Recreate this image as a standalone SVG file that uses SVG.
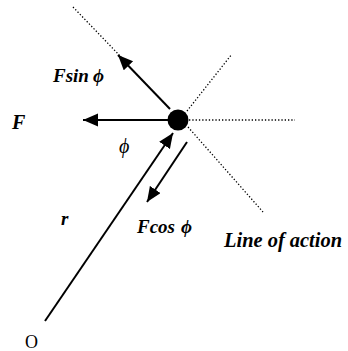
<svg xmlns="http://www.w3.org/2000/svg" width="348" height="351" viewBox="0 0 348 351">
<defs>
<marker id="ah" markerUnits="userSpaceOnUse" markerWidth="16" markerHeight="14" refX="15" refY="6.5" orient="auto">
<path d="M0,0 L15,6.5 L0,13 z" fill="#000"/>
</marker>
<style>
.dot{stroke:#000;stroke-width:1.3;stroke-dasharray:1.3 2;fill:none}
.arr{stroke:#000;stroke-width:2;fill:none;marker-end:url(#ah)}
.lbl{font-family:"Liberation Serif","Times New Roman",serif;font-weight:bold;font-style:italic;font-size:19px;fill:#000}
.reg{font-family:"Liberation Serif","Times New Roman",serif;font-size:18px;fill:#000}
</style>
</defs>
<rect width="348" height="351" fill="#fff"/>
<g id="connectors">
<line class="dot" x1="73" y1="7" x2="122" y2="58"/>
<line class="dot" x1="189" y1="120" x2="295" y2="120"/>
<line class="dot" x1="187" y1="111" x2="232" y2="54"/>
<line class="dot" x1="188" y1="127" x2="263" y2="212"/>
<line class="arr" x1="170" y1="109" x2="118" y2="55"/>
<line class="arr" x1="168" y1="120" x2="83" y2="120"/>
<line class="arr" x1="45" y1="321" x2="173" y2="133"/>
<line class="arr" x1="187" y1="142" x2="147" y2="202"/>
</g>
<g id="particle"><circle cx="178" cy="120" r="10.5" fill="#000"/></g>
<g id="labels">
<text class="lbl" x="53" y="82">Fsin<tspan x="93">ϕ</tspan></text>
<text class="lbl" x="12" y="129" style="font-size:20px">F</text>
<text class="reg" x="119" y="153" style="font-style:italic;font-size:20px">ϕ</text>
<text class="lbl" x="61" y="225">r</text>
<text class="lbl" x="137" y="233">Fcos<tspan x="181">ϕ</tspan></text>
<text class="lbl" x="224" y="247" style="font-size:20px" textLength="118" lengthAdjust="spacingAndGlyphs">Line of action</text>
<text class="reg" x="25" y="348">O</text>
</g>
</svg>
